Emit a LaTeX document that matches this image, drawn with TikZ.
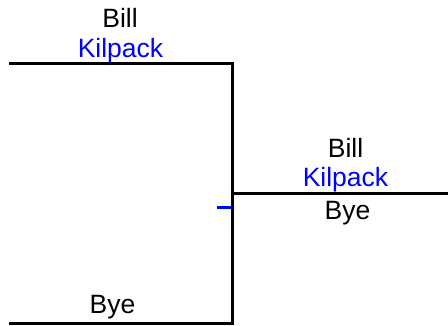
\documentclass[tikz,border=0pt]{standalone}
\usepackage{fontspec}
\setmainfont{Liberation Sans}
\definecolor{lastname}{RGB}{0,0,255}
\tikzset{
  player/.style={
    anchor = base,
    inner sep = 0pt,
    font = \fontsize{26.5}{30}\selectfont
  },
  surname/.style={
    player,
    text = lastname
  },
  bracket/.style={
    line width = 3pt,
    miter limit = 4
  },
  marker/.style={
    line width = 3.2pt,
    lastname
  }
}
\begin{document}
\begin{tikzpicture}[x=1pt,y=-1pt]
  \useasboundingbox (0,0) rectangle (448,326);
  % round one
  \coordinate (a1) at (9,64);
  \coordinate (a2) at (232,64);
  \coordinate (b1) at (9,323.5);
  \coordinate (b2) at (232,323.5);
  \draw[bracket] (a1) -- (a2) -- (b2) -- (b1);
  \node[player] (p1) at (120,28) {Bill};
  \node[surname] (s1) at (120.5,58) {Kilpack};
  \node[player] (p2) at (112.5,314) {Bye};
  % round two
  \coordinate (w1) at (232,194);
  \coordinate (w2) at (448,194);
  \draw[bracket] (w1) -- (w2);
  \node[player] (p3) at (345.5,158) {Bill};
  \node[surname] (s3) at (345.5,187) {Kilpack};
  \node[player] (p4) at (347.5,220) {Bye};
  % blue tick
  \coordinate (m1) at (217,207.5);
  \coordinate (m2) at (231,207.5);
  \draw[marker] (m1) -- (m2);
\end{tikzpicture}
\end{document}
